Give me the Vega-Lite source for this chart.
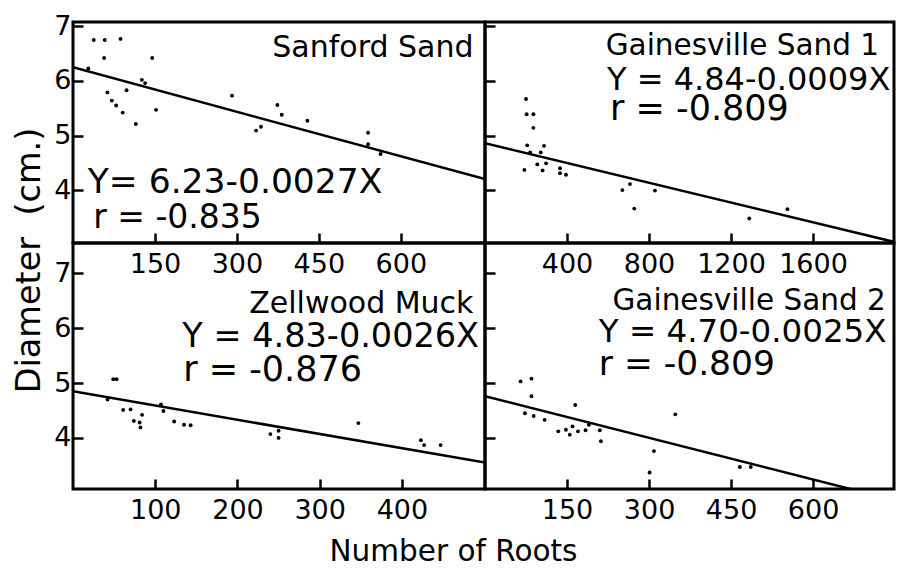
{
  "$schema": "https://vega.github.io/schema/vega-lite/v6.json",
  "background": "white",
  "padding": {"left": 10, "top": 10, "right": 0, "bottom": 0},
  "columns": 2,
  "spacing": 0,
  "bounds": "flush",
  "config": {
    "font": "DejaVu Sans",
    "view": {"stroke": "black", "strokeWidth": 3},
    "axis": {
      "domain": false, "grid": false, "ticks": true,
      "tickColor": "black", "tickWidth": 2.5, "tickSize": -10,
      "labelFont": "DejaVu Sans", "labelFontSize": 27, "labelColor": "black",
      "labelFlush": false, "labelOverlap": false, "format": "d",
      "titleFont": "DejaVu Sans", "titleFontWeight": "normal", "titleColor": "black", "titleFontSize": 31
    },
    "text": {"font": "DejaVu Sans", "color": "black"}
  },
  "datasets": {
    "pts": [
      {"soil": "Sanford Sand", "roots": 28, "diam": 6.23},
      {"soil": "Sanford Sand", "roots": 38, "diam": 6.75},
      {"soil": "Sanford Sand", "roots": 58, "diam": 6.75},
      {"soil": "Sanford Sand", "roots": 87, "diam": 6.77},
      {"soil": "Sanford Sand", "roots": 57, "diam": 6.42},
      {"soil": "Sanford Sand", "roots": 145, "diam": 6.42},
      {"soil": "Sanford Sand", "roots": 126, "diam": 6.02},
      {"soil": "Sanford Sand", "roots": 132, "diam": 5.96},
      {"soil": "Sanford Sand", "roots": 63, "diam": 5.79},
      {"soil": "Sanford Sand", "roots": 98, "diam": 5.83},
      {"soil": "Sanford Sand", "roots": 71, "diam": 5.64},
      {"soil": "Sanford Sand", "roots": 79, "diam": 5.55},
      {"soil": "Sanford Sand", "roots": 91, "diam": 5.42},
      {"soil": "Sanford Sand", "roots": 115, "diam": 5.21},
      {"soil": "Sanford Sand", "roots": 152, "diam": 5.47},
      {"soil": "Sanford Sand", "roots": 291, "diam": 5.73},
      {"soil": "Sanford Sand", "roots": 335, "diam": 5.09},
      {"soil": "Sanford Sand", "roots": 344, "diam": 5.16},
      {"soil": "Sanford Sand", "roots": 374, "diam": 5.56},
      {"soil": "Sanford Sand", "roots": 382, "diam": 5.38},
      {"soil": "Sanford Sand", "roots": 429, "diam": 5.27},
      {"soil": "Sanford Sand", "roots": 540, "diam": 5.05},
      {"soil": "Sanford Sand", "roots": 540, "diam": 4.84},
      {"soil": "Sanford Sand", "roots": 563, "diam": 4.66},
      {"soil": "Gainesville Sand 1", "roots": 200, "diam": 5.67},
      {"soil": "Gainesville Sand 1", "roots": 203, "diam": 5.39},
      {"soil": "Gainesville Sand 1", "roots": 236, "diam": 5.39},
      {"soil": "Gainesville Sand 1", "roots": 236, "diam": 5.14},
      {"soil": "Gainesville Sand 1", "roots": 206, "diam": 4.82},
      {"soil": "Gainesville Sand 1", "roots": 288, "diam": 4.81},
      {"soil": "Gainesville Sand 1", "roots": 220, "diam": 4.69},
      {"soil": "Gainesville Sand 1", "roots": 272, "diam": 4.69},
      {"soil": "Gainesville Sand 1", "roots": 192, "diam": 4.37},
      {"soil": "Gainesville Sand 1", "roots": 255, "diam": 4.47},
      {"soil": "Gainesville Sand 1", "roots": 298, "diam": 4.49},
      {"soil": "Gainesville Sand 1", "roots": 281, "diam": 4.36},
      {"soil": "Gainesville Sand 1", "roots": 366, "diam": 4.40},
      {"soil": "Gainesville Sand 1", "roots": 366, "diam": 4.31},
      {"soil": "Gainesville Sand 1", "roots": 395, "diam": 4.28},
      {"soil": "Gainesville Sand 1", "roots": 670, "diam": 4.00},
      {"soil": "Gainesville Sand 1", "roots": 707, "diam": 4.11},
      {"soil": "Gainesville Sand 1", "roots": 728, "diam": 3.66},
      {"soil": "Gainesville Sand 1", "roots": 829, "diam": 3.99},
      {"soil": "Gainesville Sand 1", "roots": 1289, "diam": 3.48},
      {"soil": "Gainesville Sand 1", "roots": 1475, "diam": 3.65},
      {"soil": "Zellwood Muck", "roots": 49, "diam": 5.07},
      {"soil": "Zellwood Muck", "roots": 53, "diam": 5.07},
      {"soil": "Zellwood Muck", "roots": 42, "diam": 4.70},
      {"soil": "Zellwood Muck", "roots": 61, "diam": 4.51},
      {"soil": "Zellwood Muck", "roots": 70, "diam": 4.52},
      {"soil": "Zellwood Muck", "roots": 74, "diam": 4.31},
      {"soil": "Zellwood Muck", "roots": 84, "diam": 4.42},
      {"soil": "Zellwood Muck", "roots": 81, "diam": 4.28},
      {"soil": "Zellwood Muck", "roots": 82, "diam": 4.19},
      {"soil": "Zellwood Muck", "roots": 107, "diam": 4.61},
      {"soil": "Zellwood Muck", "roots": 110, "diam": 4.49},
      {"soil": "Zellwood Muck", "roots": 123, "diam": 4.30},
      {"soil": "Zellwood Muck", "roots": 135, "diam": 4.24},
      {"soil": "Zellwood Muck", "roots": 143, "diam": 4.23},
      {"soil": "Zellwood Muck", "roots": 240, "diam": 4.07},
      {"soil": "Zellwood Muck", "roots": 250, "diam": 4.13},
      {"soil": "Zellwood Muck", "roots": 250, "diam": 4.00},
      {"soil": "Zellwood Muck", "roots": 347, "diam": 4.27},
      {"soil": "Zellwood Muck", "roots": 423, "diam": 3.96},
      {"soil": "Zellwood Muck", "roots": 427, "diam": 3.87},
      {"soil": "Zellwood Muck", "roots": 447, "diam": 3.87},
      {"soil": "Gainesville Sand 2", "roots": 65, "diam": 5.03},
      {"soil": "Gainesville Sand 2", "roots": 85, "diam": 5.08},
      {"soil": "Gainesville Sand 2", "roots": 85, "diam": 4.76},
      {"soil": "Gainesville Sand 2", "roots": 73, "diam": 4.45},
      {"soil": "Gainesville Sand 2", "roots": 89, "diam": 4.40},
      {"soil": "Gainesville Sand 2", "roots": 109, "diam": 4.33},
      {"soil": "Gainesville Sand 2", "roots": 165, "diam": 4.60},
      {"soil": "Gainesville Sand 2", "roots": 134, "diam": 4.12},
      {"soil": "Gainesville Sand 2", "roots": 148, "diam": 4.15},
      {"soil": "Gainesville Sand 2", "roots": 155, "diam": 4.06},
      {"soil": "Gainesville Sand 2", "roots": 160, "diam": 4.21},
      {"soil": "Gainesville Sand 2", "roots": 170, "diam": 4.12},
      {"soil": "Gainesville Sand 2", "roots": 184, "diam": 4.14},
      {"soil": "Gainesville Sand 2", "roots": 190, "diam": 4.24},
      {"soil": "Gainesville Sand 2", "roots": 210, "diam": 4.14},
      {"soil": "Gainesville Sand 2", "roots": 212, "diam": 3.94},
      {"soil": "Gainesville Sand 2", "roots": 309, "diam": 3.76},
      {"soil": "Gainesville Sand 2", "roots": 301, "diam": 3.37},
      {"soil": "Gainesville Sand 2", "roots": 348, "diam": 4.43},
      {"soil": "Gainesville Sand 2", "roots": 466, "diam": 3.47},
      {"soil": "Gainesville Sand 2", "roots": 486, "diam": 3.47}
    ],
    "fits": [
      {"soil": "Sanford Sand", "roots": 0, "diam": 6.25},
      {"soil": "Sanford Sand", "roots": 754, "diam": 4.2},
      {"soil": "Gainesville Sand 1", "roots": 0, "diam": 4.86},
      {"soil": "Gainesville Sand 1", "roots": 1995, "diam": 3.05},
      {"soil": "Zellwood Muck", "roots": 0, "diam": 4.85},
      {"soil": "Zellwood Muck", "roots": 501, "diam": 3.55},
      {"soil": "Gainesville Sand 2", "roots": 0, "diam": 4.76},
      {"soil": "Gainesville Sand 2", "roots": 700, "diam": 2.99}
    ],
    "notes": [
      {"soil": "Sanford Sand", "kind": "name", "text": "Sanford Sand"},
      {"soil": "Sanford Sand", "kind": "eq", "text": "Y= 6.23-0.0027X"},
      {"soil": "Sanford Sand", "kind": "r", "text": "r = -0.835"},
      {"soil": "Gainesville Sand 1", "kind": "name", "text": "Gainesville Sand 1"},
      {"soil": "Gainesville Sand 1", "kind": "eq", "text": "Y = 4.84-0.0009X"},
      {"soil": "Gainesville Sand 1", "kind": "r", "text": "r = -0.809"},
      {"soil": "Zellwood Muck", "kind": "name", "text": "Zellwood Muck"},
      {"soil": "Zellwood Muck", "kind": "eq", "text": "Y = 4.83-0.0026X"},
      {"soil": "Zellwood Muck", "kind": "r", "text": "r = -0.876"},
      {"soil": "Gainesville Sand 2", "kind": "name", "text": "Gainesville Sand 2"},
      {"soil": "Gainesville Sand 2", "kind": "eq", "text": "Y = 4.70-0.0025X"},
      {"soil": "Gainesville Sand 2", "kind": "r", "text": "r = -0.809"}
    ]
  },
  "concat": [
    {
      "width": 412, "height": 221,
      "layer": [
        {"data": {"name": "pts"}, "transform": [{"filter": "datum.soil === 'Sanford Sand'"}],
         "mark": {"type": "circle", "color": "black", "size": 15, "opacity": 1},
         "encoding": {
           "x": {"field": "roots", "type": "quantitative", "title": null, "scale": {"domain": [0, 754], "nice": false, "zero": false},
                 "axis": {"values": [150, 300, 450, 600], "labelPadding": 18}},
           "y": {"field": "diam", "type": "quantitative", "title": "Diameter \u00a0(cm.)", "scale": {"domain": [3.03, 7.08], "nice": false, "zero": false},
                 "axis": {"values": [4, 5, 6, 7], "labelPadding": 12, "titleX": -44, "titleY": 238, "titleBaseline": "middle", "titleAngle": -90, "titleAlign": "center", "titleFontSize": 33.5}}
         }},
        {"data": {"name": "fits"}, "transform": [{"filter": "datum.soil === 'Sanford Sand'"}],
         "mark": {"type": "line", "color": "black", "strokeWidth": 2.5, "clip": true},
         "encoding": {"x": {"field": "roots", "type": "quantitative", "title": null}, "y": {"field": "diam", "type": "quantitative", "title": "Diameter \u00a0(cm.)"}}},
        {"data": {"name": "notes"}, "transform": [{"filter": "datum.soil === 'Sanford Sand' && datum.kind === 'name'"}],
         "mark": {"type": "text", "align": "right", "baseline": "alphabetic", "fontSize": 30},
         "encoding": {"x": {"datum": 733, "type": "quantitative"}, "y": {"datum": 6.44, "type": "quantitative"}, "text": {"field": "text", "type": "nominal"}}},
        {"data": {"name": "notes"}, "transform": [{"filter": "datum.soil === 'Sanford Sand' && datum.kind === 'eq'"}],
         "mark": {"type": "text", "align": "left", "baseline": "alphabetic", "fontSize": 34.5},
         "encoding": {"x": {"datum": 27, "type": "quantitative"}, "y": {"datum": 3.95, "type": "quantitative"}, "text": {"field": "text", "type": "nominal"}}},
        {"data": {"name": "notes"}, "transform": [{"filter": "datum.soil === 'Sanford Sand' && datum.kind === 'r'"}],
         "mark": {"type": "text", "align": "left", "baseline": "alphabetic", "fontSize": 33},
         "encoding": {"x": {"datum": 37, "type": "quantitative"}, "y": {"datum": 3.31, "type": "quantitative"}, "text": {"field": "text", "type": "nominal"}}}
      ]
    },
    {
      "width": 409, "height": 221,
      "layer": [
        {"data": {"name": "pts"}, "transform": [{"filter": "datum.soil === 'Gainesville Sand 1'"}],
         "mark": {"type": "circle", "color": "black", "size": 15, "opacity": 1},
         "encoding": {
           "x": {"field": "roots", "type": "quantitative", "title": null, "scale": {"domain": [0, 1995], "nice": false, "zero": false},
                 "axis": {"values": [400, 800, 1200, 1600], "labelPadding": 18}},
           "y": {"field": "diam", "type": "quantitative", "title": null, "scale": {"domain": [3.03, 7.08], "nice": false, "zero": false},
                 "axis": {"values": [4, 5, 6, 7], "labels": false}}
         }},
        {"data": {"name": "fits"}, "transform": [{"filter": "datum.soil === 'Gainesville Sand 1'"}],
         "mark": {"type": "line", "color": "black", "strokeWidth": 2.5, "clip": true},
         "encoding": {"x": {"field": "roots", "type": "quantitative", "title": null}, "y": {"field": "diam", "type": "quantitative", "title": null}}},
        {"data": {"name": "notes"}, "transform": [{"filter": "datum.soil === 'Gainesville Sand 1' && datum.kind === 'name'"}],
         "mark": {"type": "text", "align": "right", "baseline": "alphabetic", "fontSize": 29.5},
         "encoding": {"x": {"datum": 1922, "type": "quantitative"}, "y": {"datum": 6.47, "type": "quantitative"}, "text": {"field": "text", "type": "nominal"}}},
        {"data": {"name": "notes"}, "transform": [{"filter": "datum.soil === 'Gainesville Sand 1' && datum.kind === 'eq'"}],
         "mark": {"type": "text", "align": "left", "baseline": "alphabetic", "fontSize": 32},
         "encoding": {"x": {"datum": 595, "type": "quantitative"}, "y": {"datum": 5.83, "type": "quantitative"}, "text": {"field": "text", "type": "nominal"}}},
        {"data": {"name": "notes"}, "transform": [{"filter": "datum.soil === 'Gainesville Sand 1' && datum.kind === 'r'"}],
         "mark": {"type": "text", "align": "left", "baseline": "alphabetic", "fontSize": 35},
         "encoding": {"x": {"datum": 610, "type": "quantitative"}, "y": {"datum": 5.28, "type": "quantitative"}, "text": {"field": "text", "type": "nominal"}}}
      ]
    },
    {
      "width": 412, "height": 246,
      "layer": [
        {"data": {"name": "pts"}, "transform": [{"filter": "datum.soil === 'Zellwood Muck'"}],
         "mark": {"type": "circle", "color": "black", "size": 15, "opacity": 1},
         "encoding": {
           "x": {"field": "roots", "type": "quantitative", "title": "Number of Roots", "scale": {"domain": [0, 501], "nice": false, "zero": false},
                 "axis": {"values": [100, 200, 300, 400], "labelPadding": 18, "titleX": 380, "titleY": 62, "titleBaseline": "middle", "titleAlign": "center", "titleFontSize": 29.5}},
           "y": {"field": "diam", "type": "quantitative", "title": null, "scale": {"domain": [3.07, 7.55], "nice": false, "zero": false},
                 "axis": {"values": [4, 5, 6, 7], "labelPadding": 12}}
         }},
        {"data": {"name": "fits"}, "transform": [{"filter": "datum.soil === 'Zellwood Muck'"}],
         "mark": {"type": "line", "color": "black", "strokeWidth": 2.5, "clip": true},
         "encoding": {"x": {"field": "roots", "type": "quantitative", "title": "Number of Roots"}, "y": {"field": "diam", "type": "quantitative", "title": null}}},
        {"data": {"name": "notes"}, "transform": [{"filter": "datum.soil === 'Zellwood Muck' && datum.kind === 'name'"}],
         "mark": {"type": "text", "align": "right", "baseline": "alphabetic", "fontSize": 30},
         "encoding": {"x": {"datum": 487, "type": "quantitative"}, "y": {"datum": 6.27, "type": "quantitative"}, "text": {"field": "text", "type": "nominal"}}},
        {"data": {"name": "notes"}, "transform": [{"filter": "datum.soil === 'Zellwood Muck' && datum.kind === 'eq'"}],
         "mark": {"type": "text", "align": "left", "baseline": "alphabetic", "fontSize": 33.5},
         "encoding": {"x": {"datum": 133, "type": "quantitative"}, "y": {"datum": 5.65, "type": "quantitative"}, "text": {"field": "text", "type": "nominal"}}},
        {"data": {"name": "notes"}, "transform": [{"filter": "datum.soil === 'Zellwood Muck' && datum.kind === 'r'"}],
         "mark": {"type": "text", "align": "left", "baseline": "alphabetic", "fontSize": 35},
         "encoding": {"x": {"datum": 134, "type": "quantitative"}, "y": {"datum": 5.04, "type": "quantitative"}, "text": {"field": "text", "type": "nominal"}}}
      ]
    },
    {
      "width": 409, "height": 246,
      "layer": [
        {"data": {"name": "pts"}, "transform": [{"filter": "datum.soil === 'Gainesville Sand 2'"}],
         "mark": {"type": "circle", "color": "black", "size": 15, "opacity": 1},
         "encoding": {
           "x": {"field": "roots", "type": "quantitative", "title": null, "scale": {"domain": [0, 748], "nice": false, "zero": false},
                 "axis": {"values": [150, 300, 450, 600], "labelPadding": 18}},
           "y": {"field": "diam", "type": "quantitative", "title": null, "scale": {"domain": [3.07, 7.55], "nice": false, "zero": false},
                 "axis": {"values": [4, 5, 6, 7], "labels": false}}
         }},
        {"data": {"name": "fits"}, "transform": [{"filter": "datum.soil === 'Gainesville Sand 2'"}],
         "mark": {"type": "line", "color": "black", "strokeWidth": 2.5, "clip": true},
         "encoding": {"x": {"field": "roots", "type": "quantitative", "title": null}, "y": {"field": "diam", "type": "quantitative", "title": null}}},
        {"data": {"name": "notes"}, "transform": [{"filter": "datum.soil === 'Gainesville Sand 2' && datum.kind === 'name'"}],
         "mark": {"type": "text", "align": "right", "baseline": "alphabetic", "fontSize": 29.5},
         "encoding": {"x": {"datum": 733, "type": "quantitative"}, "y": {"datum": 6.33, "type": "quantitative"}, "text": {"field": "text", "type": "nominal"}}},
        {"data": {"name": "notes"}, "transform": [{"filter": "datum.soil === 'Gainesville Sand 2' && datum.kind === 'eq'"}],
         "mark": {"type": "text", "align": "left", "baseline": "alphabetic", "fontSize": 32.5},
         "encoding": {"x": {"datum": 208, "type": "quantitative"}, "y": {"datum": 5.74, "type": "quantitative"}, "text": {"field": "text", "type": "nominal"}}},
        {"data": {"name": "notes"}, "transform": [{"filter": "datum.soil === 'Gainesville Sand 2' && datum.kind === 'r'"}],
         "mark": {"type": "text", "align": "left", "baseline": "alphabetic", "fontSize": 34.5},
         "encoding": {"x": {"datum": 208, "type": "quantitative"}, "y": {"datum": 5.14, "type": "quantitative"}, "text": {"field": "text", "type": "nominal"}}}
      ]
    }
  ]
}
